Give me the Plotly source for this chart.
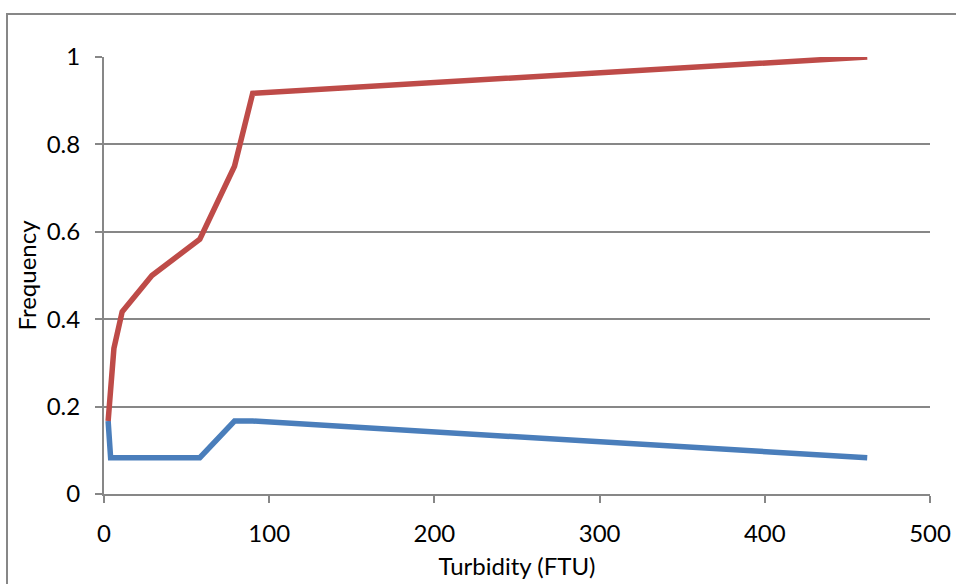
import plotly.graph_objects as go

turbidity = [2.5, 4, 6, 11, 29, 58, 79, 90, 462]
frequency = [0.167, 0.083, 0.083, 0.083, 0.083, 0.083, 0.167, 0.167, 0.083]
cumulative = [0.167, 0.25, 0.333, 0.417, 0.5, 0.583, 0.75, 0.917, 1.0]
x_ticks = [0, 100, 200, 300, 400, 500]
y_ticks = [0, 0.2, 0.4, 0.6, 0.8, 1]
y_tick_labels = ["0", "0.2", "0.4", "0.6", "0.8", "1"]

FONT = "Lato"
GRAY = "#878787"

fig = go.Figure()
fig.add_trace(go.Scatter(x=turbidity, y=frequency, mode="lines",
                         line=dict(color="#4A7EBB", width=5.5), showlegend=False))
fig.add_trace(go.Scatter(x=turbidity, y=cumulative, mode="lines",
                         line=dict(color="#BE4B48", width=5.5), showlegend=False))

L, R, T, B = 104, 26, 57, 90
W, H = 956, 584
pw, ph = W - L - R, H - T - B

fig.update_layout(
    width=W, height=H,
    margin=dict(l=L, r=R, t=T, b=B, autoexpand=False),
    paper_bgcolor="white", plot_bgcolor="white",
    font=dict(family=FONT, size=24, color="#000000"),
    xaxis=dict(range=[0, 500], tickvals=x_ticks, showgrid=False,
               showline=True, linecolor=GRAY, linewidth=2,
               ticks="outside", ticklen=7, tickwidth=2, tickcolor=GRAY,
               zeroline=False, ticklabelstandoff=10,
               title=dict(text="Turbidity (FTU)", standoff=12,
                          font=dict(family=FONT, size=24))),
    yaxis=dict(range=[0, 1], tickvals=y_ticks, ticktext=y_tick_labels,
               showgrid=True, gridcolor=GRAY, gridwidth=2,
               showline=True, linecolor=GRAY, linewidth=2,
               ticks="outside", ticklen=7, tickwidth=2, tickcolor=GRAY,
               zeroline=False, ticklabelstandoff=10,
               title=dict(text="Frequency", standoff=3,
                          font=dict(family=FONT, size=24))),
)

# outer chart border (extends past right/bottom edges of the picture)
fig.add_shape(type="rect", xref="paper", yref="paper",
              x0=(7 - L) / pw, x1=(W + 10 - L) / pw,
              y0=-(H + 10 - T - ph) / ph, y1=(H - B - 14) / ph,
              line=dict(color=GRAY, width=2), layer="below")

fig.write_html("out.html")
